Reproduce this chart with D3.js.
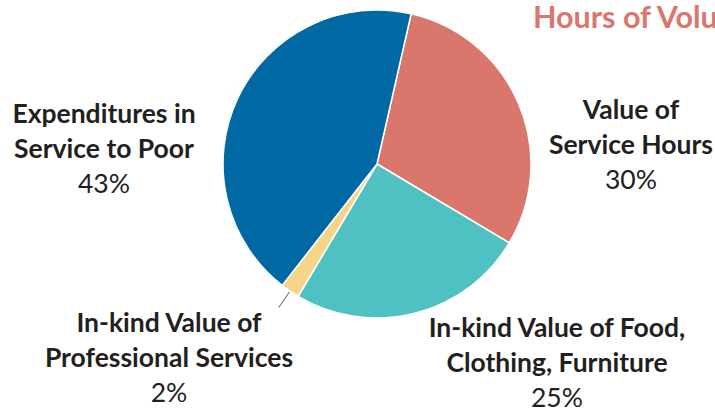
<!DOCTYPE html>
<html>
<head>
<meta charset="utf-8">
<script src="https://cdn.jsdelivr.net/npm/d3@7"></script>
<style>
  html, body { margin: 0; padding: 0; background: #fff; overflow: hidden; }
  svg { display: block; }
  text { font-family: Lato, "Open Sans", sans-serif; fill: #231f20; }
</style>
</head>
<body>
<svg id="chart" width="715" height="413"></svg>
<script>
// data
const categories = [
  "Value of Service Hours",
  "In-kind Value of Food, Clothing, Furniture",
  "In-kind Value of Professional Services",
  "Expenditures in Service to Poor"
];
const values = [30, 25, 2, 43];
const labelLines = [
  ["Value of", "Service Hours"],
  ["In-kind Value of Food,", "Clothing, Furniture"],
  ["In-kind Value of", "Professional Services"],
  ["Expenditures in", "Service to Poor"]
];
const titleText = "Hours of Volunteer Service";

// styles / layout
const colors = ["#d9776c", "#4fc1c2", "#f5d588", "#0069a3"];
const width = 715, height = 413;
const cx = 377, cy = 164, radius = 154;
const startDeg = 12.8;
const lineGap = 35;
// label anchor (centre x, first baseline y)
const labelPos = [
  [631, 119],
  [557, 337],
  [169, 332],
  [104, 123]
];

const svg = d3.select("#chart");

const pie = d3.pie()
  .sort(null)
  .value(d => d)
  .startAngle(startDeg * Math.PI / 180)
  .endAngle(startDeg * Math.PI / 180 + 2 * Math.PI);

const arc = d3.arc().innerRadius(0).outerRadius(radius);

const arcs = pie(values);

const g = svg.append("g").attr("transform", `translate(${cx},${cy})`);

g.selectAll("path.slice")
  .data(arcs)
  .join("path")
  .attr("class", "slice")
  .attr("d", arc)
  .attr("fill", (d, i) => colors[i])
  .attr("stroke", "#fff")
  .attr("stroke-width", 1.5)
  .attr("stroke-linejoin", "round");

// leader line for the small slice
const small = arcs[2];
const mid = (small.startAngle + small.endAngle) / 2;
const p = r => [r * Math.sin(mid), -r * Math.cos(mid)];
const a = p(radius + 1), b = p(radius + 20);
g.append("line")
  .attr("x1", a[0]).attr("y1", a[1])
  .attr("x2", b[0]).attr("y2", b[1])
  .attr("stroke", "#595959")
  .attr("stroke-width", 1);

// labels
const fmt = d3.format(".0%");
const total = d3.sum(values);

labelLines.forEach((lines, i) => {
  const t = svg.append("text")
    .attr("text-anchor", "middle")
    .attr("x", labelPos[i][0])
    .attr("y", labelPos[i][1])
    .style("font-size", "26.5px");
  lines.forEach((ln, j) => {
    t.append("tspan")
      .attr("x", labelPos[i][0])
      .attr("dy", j === 0 ? 0 : lineGap)
      .attr("font-weight", 700)
      .text(ln);
  });
  t.append("tspan")
    .attr("x", labelPos[i][0])
    .attr("dy", lineGap)
    .attr("font-weight", 400)
    .text(fmt(values[i] / total));
});

// title (runs off the right edge, as in the original)
svg.append("text")
  .attr("x", 533)
  .attr("y", 28)
  .style("font-size", "30.5px")
  .style("font-weight", 700)
  .style("fill", "#d9776c")
  .text(titleText);
</script>
</body>
</html>
